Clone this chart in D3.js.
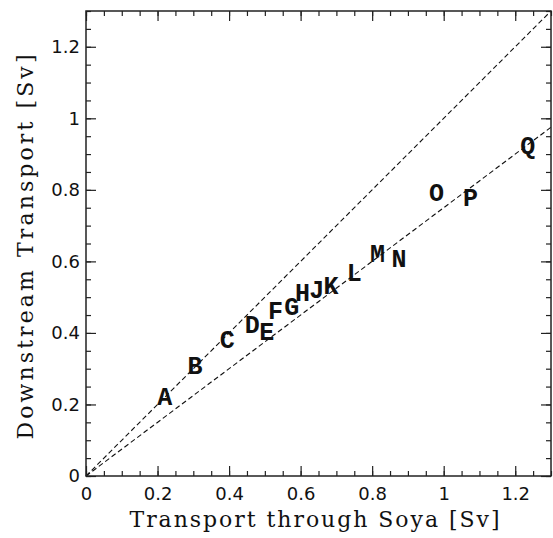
<!DOCTYPE html>
<html>
<head>
<meta charset="utf-8">
<script src="https://cdn.jsdelivr.net/npm/d3@7"></script>
<style>
  body { margin: 0; background: #fff; }
</style>
</head>
<body>
<div id="chart"></div>
<script>
// station labels and transports
var labels = ["A","B","C","D","E","F","G","H","J","K","L","M","N","O","P","Q"];
var soya = [0.22, 0.305, 0.395, 0.465, 0.505, 0.53, 0.575, 0.605, 0.645, 0.685, 0.75, 0.815, 0.875, 0.98, 1.075, 1.235];
var downstream = [0.22, 0.305, 0.38, 0.42, 0.40, 0.46, 0.47, 0.51, 0.52, 0.53, 0.565, 0.62, 0.605, 0.79, 0.775, 0.92];
// reference lines through origin
var slopes = [1, 0.75];
var tickValues = [0, 0.2, 0.4, 0.6, 0.8, 1, 1.2];

function init(){

var w = 553;
var h = 538;
var left = 86, right = 551, top = 11, bottom = 476;

var xScale = d3.scaleLinear()
                .domain([0, 1.3])
                .range([left, right]);
var yScale = d3.scaleLinear()
                .domain([0, 1.3])
                .range([bottom, top]);

var svg = d3.select("#chart")
  .append("svg")
  .attr("width", w)
  .attr("height", h);

// dashed lines
var line = d3.line()
  .x(function(d) { return xScale(d[0]); })
  .y(function(d) { return yScale(d[1]); });

slopes.forEach(function(s) {
  var xEnd = Math.min(1.3, 1.3 / s);
  svg.append("path")
    .datum([[0, 0], [xEnd, s * xEnd]])
    .attr("fill", "none")
    .attr("stroke", "#111")
    .attr("stroke-width", 1.1)
    .attr("stroke-dasharray", "5,3")
    .attr("d", line);
});

// letters
svg.selectAll("text.pt")
  .data(labels)
  .enter()
  .append("text")
  .attr("class", "pt")
  .attr("x", function(d, i) { return xScale(soya[i]); })
  .attr("y", function(d, i) { return yScale(downstream[i]); })
  .attr("dy", "0.3em")
  .attr("text-anchor", "middle")
  .attr("font-family", "Liberation Mono")
  .attr("font-weight", "bold")
  .attr("font-size", 25)
  .attr("fill", "#111")
  .text(function(d) { return d; });

// axes, ticks inward on all four sides
var minor = d3.range(0, 1.3001, 0.05);
function fmt(d) { return d === 0 ? "0" : d3.format("~g")(d); }

var xBottom = d3.axisBottom(xScale).tickValues(minor).tickSize(-5).tickFormat("");
var xTop = d3.axisTop(xScale).tickValues(minor).tickSize(-5).tickFormat("");
var yLeft = d3.axisLeft(yScale).tickValues(minor).tickSize(-5).tickFormat("");
var yRight = d3.axisRight(yScale).tickValues(minor).tickSize(-5).tickFormat("");

svg.append("g").attr("transform", "translate(0," + bottom + ")").call(xBottom);
svg.append("g").attr("transform", "translate(0," + top + ")").call(xTop);
svg.append("g").attr("transform", "translate(" + left + ",0)").call(yLeft);
svg.append("g").attr("transform", "translate(" + right + ",0)").call(yRight);

svg.append("g").attr("transform", "translate(0," + bottom + ")")
  .call(d3.axisBottom(xScale).tickValues(tickValues).tickSize(-10).tickPadding(11).tickFormat(fmt));
svg.append("g").attr("transform", "translate(0," + top + ")")
  .call(d3.axisTop(xScale).tickValues(tickValues).tickSize(-10).tickFormat(""));
svg.append("g").attr("transform", "translate(" + left + ",0)")
  .call(d3.axisLeft(yScale).tickValues(tickValues).tickSize(-10).tickPadding(6).tickFormat(fmt));
svg.append("g").attr("transform", "translate(" + right + ",0)")
  .call(d3.axisRight(yScale).tickValues(tickValues).tickSize(-10).tickFormat(""));

svg.selectAll(".domain").remove();
svg.selectAll(".tick line").attr("stroke", "#222").attr("stroke-width", 1.2);
svg.selectAll(".tick text")
  .attr("font-family", "DejaVu Sans")
  .attr("font-size", 18)
  .attr("fill", "#111");

svg.append("rect")
  .attr("x", left)
  .attr("y", top)
  .attr("width", right - left)
  .attr("height", bottom - top)
  .attr("fill", "none")
  .attr("stroke", "#222")
  .attr("stroke-width", 1.5);

// axis titles
svg.append("text")
  .attr("x", (left + right) / 2 - 4)
  .attr("y", 527)
  .attr("text-anchor", "middle")
  .attr("font-family", "DejaVu Serif")
  .attr("font-size", 22)
  .attr("textLength", 370)
  .attr("lengthAdjust", "spacing")
  .attr("fill", "#111")
  .text("Transport through Soya [Sv]");

svg.append("text")
  .attr("transform", "translate(33," + 247 + ") rotate(-90)")
  .attr("text-anchor", "middle")
  .attr("font-family", "DejaVu Serif")
  .attr("font-size", 22)
  .attr("textLength", 385)
  .attr("lengthAdjust", "spacing")
  .attr("fill", "#111")
  .text("Downstream Transport [Sv]");
}

window.onload = init;
</script>
</body>
</html>
